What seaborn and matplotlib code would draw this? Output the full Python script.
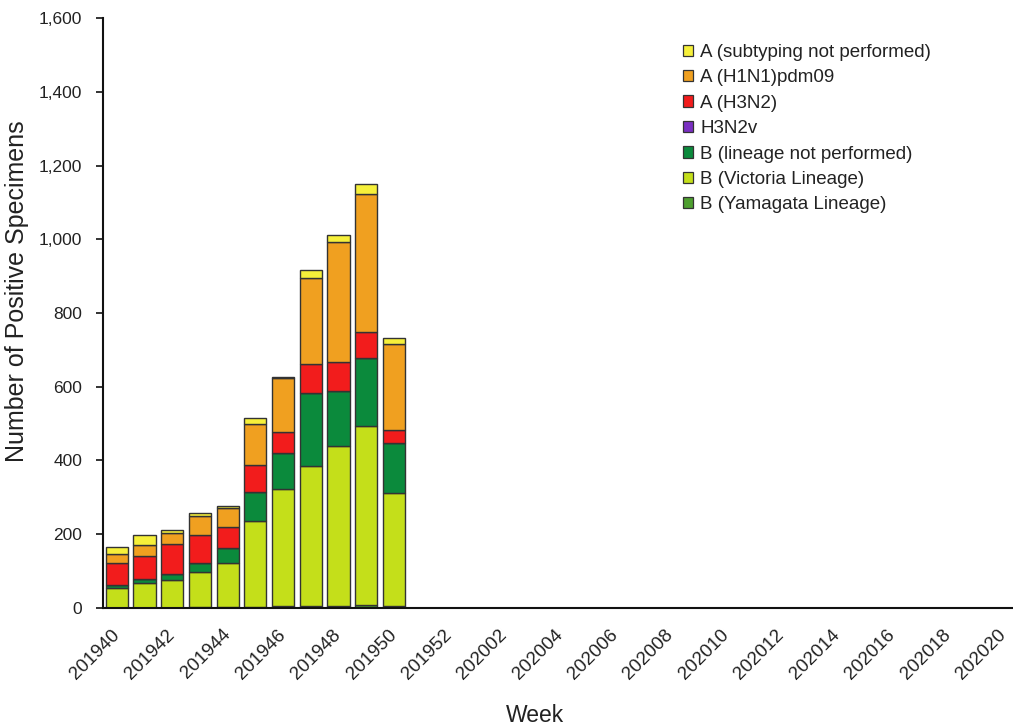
import numpy as np
import pandas as pd
import matplotlib
matplotlib.use("Agg")
import matplotlib.pyplot as plt
import matplotlib.transforms as mtransforms
import seaborn as sns

# weeks 201940..201952, then 202001..202020
weeks = [f"2019{w}" for w in range(40, 53)] + [f"2020{w:02d}" for w in range(1, 21)]

# values (only first 11 weeks reported)
yamagata = [1, 1, 1, 2, 2, 4, 5, 5, 6, 8, 5]
victoria = [52, 68, 75, 95, 121, 233, 317, 381, 434, 485, 307]
b_not_perf = [9, 10, 16, 24, 40, 78, 97, 197, 149, 186, 136]
h3n2v = [0, 0, 0, 0, 0, 0, 0, 0, 0, 0, 0]
h3n2 = [59, 62, 81, 77, 57, 73, 57, 80, 79, 70, 34]
h1n1 = [25, 30, 31, 51, 50, 111, 148, 233, 325, 373, 233]
a_unsub = [20, 27, 7, 8, 6, 15, 3, 20, 18, 29, 16]

series = [
    ("B (Yamagata Lineage)", yamagata, "#4e9f2f"),
    ("B (Victoria Lineage)", victoria, "#c4df1a"),
    ("B (lineage not performed)", b_not_perf, "#0b8a3c"),
    ("H3N2v", h3n2v, "#7a2fc2"),
    ("A (H3N2)", h3n2, "#f21c1c"),
    ("A (H1N1)pdm09", h1n1, "#f0a020"),
    ("A (subtyping not performed)", a_unsub, "#f6f03a"),
]

n = len(weeks)
pad = lambda v: list(v) + [0] * (n - len(v))

sns.set_theme(style="white")
plt.rcParams["font.family"] = ["Liberation Sans", "DejaVu Sans"]

fig = plt.figure(figsize=(10.13, 7.27), dpi=100)
ax = fig.add_axes([0.1017, 0.1637, 0.9023, 0.8115])

bottom = np.zeros(n)
handles = []
for name, vals, color in series:
    df = pd.DataFrame({"week": weeks, "count": pad(vals)})
    sns.barplot(data=df, x="week", y="count", color=color, width=0.8,
                bottom=bottom, edgecolor="#333333", linewidth=1.0,
                saturation=1, ax=ax, order=weeks)
    bottom += np.array(pad(vals), dtype=float)
    handles.append(plt.Rectangle((0, 0), 1, 1, facecolor=color,
                                 edgecolor="#333333", linewidth=0.9, label=name))

ax.set_xlim(-0.5, n - 0.5)
ax.set_ylim(0, 1600)
ax.set_yticks(range(0, 1601, 200))
ax.set_yticklabels([f"{v:,}" for v in range(0, 1601, 200)], fontsize=12.5, color="#222222")

ax.set_xticks(range(0, n, 2))
ax.set_xticks(np.arange(-0.5, n, 1), minor=True)
ax.tick_params(axis="x", which="major", length=0, pad=13)
ax.tick_params(axis="x", which="minor", length=5, width=1.2, color="#111111", direction="out")
ax.tick_params(axis="y", length=5, width=1.2, color="#111111", direction="out", left=True, pad=10)
ax.set_xticklabels(weeks[::2], rotation=45, ha="right", va="top",
                   rotation_mode="anchor", fontsize=13.5, color="#222222")
# nudge the rotated week labels a little to the left (after tick_params, which resets transforms)
shift = mtransforms.ScaledTranslation(-0.06, 0, fig.dpi_scale_trans)
for lbl in ax.get_xticklabels():
    lbl.set_transform(lbl.get_transform() + shift)

for s in ["top", "right"]:
    ax.spines[s].set_visible(False)
for s in ["left", "bottom"]:
    ax.spines[s].set_color("#111111")
    ax.spines[s].set_linewidth(1.5)

ax.set_xlabel("Week", fontsize=16.5, color="#222222")
ax.set_ylabel("Number of Positive Specimens", fontsize=18, color="#222222")
ax.xaxis.set_label_coords(0.4726, -0.163)
ax.yaxis.set_label_coords(-0.081, 0.537)

leg = fig.legend(handles=handles[::-1], loc="upper left", bbox_to_anchor=(0.667, 0.95),
                 frameon=False, fontsize=13.5, handlelength=0.55, handleheight=0.55,
                 handletextpad=0.35, labelspacing=0.45, borderaxespad=0)
for t in leg.get_texts():
    t.set_color("#222222")

fig.savefig("out.png", dpi=100)
